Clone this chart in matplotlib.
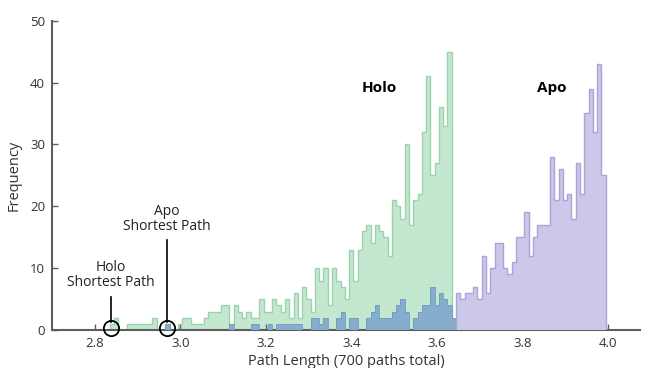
import numpy as np
import matplotlib
matplotlib.use("Agg")
import matplotlib.pyplot as plt

plt.rcParams['font.family'] = ['Open Sans', 'DejaVu Sans']

# bin layout (0.01 wide bins)
bin_width = 0.01
holo_start = 2.835
apo_start = 2.965

# Holo counts, bins from 2.835 to 3.635
holo_counts = [1, 2, 0, 0, 1, 1, 1, 1, 1, 1,
               2, 0, 0, 1, 0, 0, 1, 2, 2, 1,
               1, 1, 2, 3, 3, 3, 4, 4, 1, 4,
               3, 2, 3, 2, 2, 5, 3, 3, 5, 4,
               3, 5, 2, 6, 2, 7, 5, 3, 10, 8,
               10, 4, 10, 8, 7, 5, 13, 8, 13, 16,
               17, 14, 17, 16, 15, 12, 21, 20, 18, 30,
               17, 21, 22, 32, 41, 25, 27, 36, 33, 45]

# Apo counts, bins from 2.965 to 3.995
apo_counts = [1, 0, 0, 0, 0, 0, 0, 0, 0, 0,
              0, 0, 0, 0, 0, 1, 0, 0, 0, 0,
              1, 1, 0, 0, 1, 0, 1, 1, 1, 1,
              1, 1, 0, 0, 2, 2, 1, 2, 0, 0,
              2, 3, 0, 2, 2, 0, 0, 2, 3, 4,
              2, 2, 2, 3, 4, 5, 3, 0, 2, 3,
              4, 4, 7, 4, 6, 5, 4, 2,
              6, 5, 6, 6, 7, 5, 12, 6, 10, 14,
              14, 10, 9, 11, 15, 15, 19, 12, 15, 17,
              17, 17, 28, 21, 26, 21, 22, 18, 27, 22,
              35, 39, 32, 43, 25]

holo_edges = holo_start + bin_width * np.arange(len(holo_counts) + 1)
apo_edges = apo_start + bin_width * np.arange(len(apo_counts) + 1)

# apo bins that sit inside the holo range are shown blue (overlap)
split = int(round((3.645 - apo_start) / bin_width))

green = '#c4e7cf'
green_edge = '#9dd2ae'
purple = '#cbc8e9'
purple_edge = '#aaa4d8'
blue = '#86adcb'
blue_edge = '#6f9cbf'

fig = plt.figure(figsize=(6.49, 3.68), dpi=100)
ax = fig.add_axes([0.080, 0.103, 0.906, 0.841])

ax.stairs(holo_counts, holo_edges, fill=True, color=green, zorder=1)
ax.stairs(holo_counts, holo_edges, color=green_edge, lw=1.0, zorder=2)
ax.stairs(apo_counts[:split], apo_edges[:split + 1], fill=True, color=blue, zorder=3)
ax.stairs(apo_counts[:split], apo_edges[:split + 1], color=blue_edge, lw=0.6, zorder=3)
ax.stairs(apo_counts[split:], apo_edges[split:], fill=True, color=purple, zorder=3)
ax.stairs(apo_counts[split:], apo_edges[split:], color=purple_edge, lw=1.0, zorder=3)

ax.set_xlim(2.7, 4.075)
ax.set_ylim(0, 50)
ax.set_xticks([2.8, 3.0, 3.2, 3.4, 3.6, 3.8, 4.0])
ax.set_yticks([0, 10, 20, 30, 40, 50])

for side in ['top', 'right']:
    ax.spines[side].set_visible(False)
for side in ['left', 'bottom']:
    ax.spines[side].set_color('#5e5e5e')
    ax.spines[side].set_linewidth(1.5)
ax.tick_params(direction='in', length=4, width=1, color='#5e5e5e',
               labelsize=9.5, labelcolor='#333333', pad=5)

ax.set_xlabel('Path Length (700 paths total)', fontsize=10.5, color='#333333', labelpad=3)
ax.set_ylabel('Frequency', fontsize=10.5, color='#333333', labelpad=6)

ax.text(3.465, 39.1, 'Holo', fontsize=11, fontweight='bold', ha='center', va='center')
ax.text(3.870, 39.1, 'Apo', fontsize=11, fontweight='bold', ha='center', va='center')

# shortest path markers
ax.plot([2.838], [0.4], 'o', ms=11, mfc='none', mec='black', mew=1.3, zorder=5, clip_on=False)
ax.plot([2.968], [0.4], 'o', ms=11, mfc='none', mec='black', mew=1.3, zorder=5, clip_on=False)
ax.plot([2.838, 2.838], [1.35, 5.4], color='black', lw=1.2, zorder=5)
ax.plot([2.968, 2.968], [1.35, 14.5], color='black', lw=1.2, zorder=5)
ax.text(2.838, 8.9, 'Holo\nShortest Path', fontsize=10, ha='center', va='center',
        color='#222222', linespacing=1.0)
ax.text(2.968, 17.9, 'Apo\nShortest Path', fontsize=10, ha='center', va='center',
        color='#222222', linespacing=1.0)

fig.savefig('out.png', dpi=100)
